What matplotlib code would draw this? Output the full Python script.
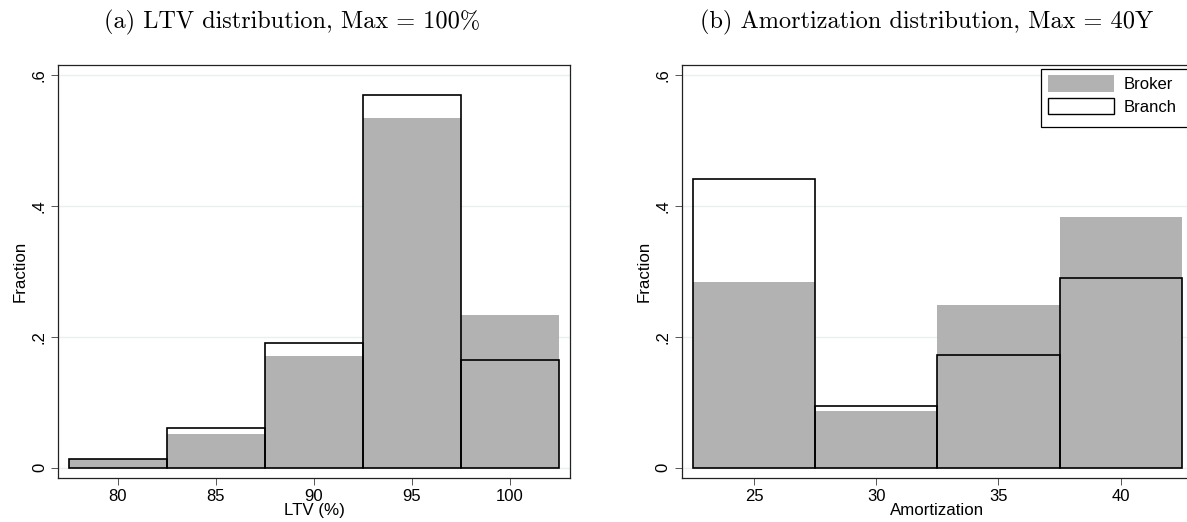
import matplotlib.pyplot as plt
from matplotlib.patches import Patch, Rectangle

plt.rcParams['font.family'] = ['Liberation Sans', 'DejaVu Sans']

# LTV histogram (fractions per 5-point bin)
ltv_bins = [80, 85, 90, 95, 100]
ltv_broker = [0.013, 0.051, 0.171, 0.534, 0.233]
ltv_branch = [0.013, 0.061, 0.190, 0.569, 0.164]

# Amortization histogram (years)
amort_bins = [25, 30, 35, 40]
amort_broker = [0.284, 0.087, 0.248, 0.383]
amort_branch = [0.442, 0.094, 0.173, 0.290]

yticks = [0, 0.2, 0.4, 0.6]
ytick_labels = ['0', '.2', '.4', '.6']

GRAY = '#b2b2b2'
GRID = '#e8f0f0'
W, H = 1187, 522

fig = plt.figure(figsize=(W / 100, H / 100), dpi=100)
ax1 = fig.add_axes([0.04886, 0.0837, 0.4313, 0.7924])
ax2 = fig.add_axes([0.5743, 0.0837, 0.4308, 0.7924])


def draw_hist(ax, bins, broker, branch, xlim, xlabel):
    ax.bar(bins, broker, width=5, color=GRAY, edgecolor='none', zorder=2)
    ax.bar(bins, branch, width=5, facecolor='none', edgecolor='black',
           linewidth=1.2, zorder=3)
    ax.set_xlim(*xlim)
    ax.set_ylim(-0.0162, 0.616)
    ax.set_xticks(bins)
    ax.set_yticks(yticks)
    ax.set_yticklabels(ytick_labels, rotation=90, va='center')
    for y in yticks:
        ax.axhline(y, color=GRID, linewidth=1.0, zorder=1)
    ax.tick_params(axis='both', direction='out', length=5, width=0.7,
                   color='#555555', labelsize=12, pad=3)
    for spine in ax.spines.values():
        spine.set_linewidth(0.9)
        spine.set_color('#222222')
    ax.set_xlabel(xlabel, fontsize=12.2, labelpad=-1)
    ax.set_ylabel('Fraction', fontsize=12.2, labelpad=3)


draw_hist(ax1, ltv_bins, ltv_broker, ltv_branch, (76.95, 103.06), 'LTV (%)')
draw_hist(ax2, amort_bins, amort_broker, amort_branch, (22.04, 42.96), 'Amortization')

# legend box runs off the right edge of the picture, as in the original
box = Rectangle((1040.7 / W, 1 - 126.7 / H), (1196 - 1040.7) / W,
                (126.7 - 69.3) / H, transform=fig.transFigure,
                facecolor='white', edgecolor='black', linewidth=0.9,
                zorder=5, clip_on=False)
ax2.add_artist(box)
handles = [Patch(facecolor=GRAY, edgecolor='none', label='Broker'),
           Patch(facecolor='white', edgecolor='black', linewidth=1.0, label='Branch')]
leg = ax2.legend(handles=handles, loc='upper left',
                 bbox_to_anchor=(1048 / W, 1 - 75 / H),
                 bbox_transform=fig.transFigure,
                 fontsize=12, frameon=False, handlelength=3.95,
                 handleheight=1.15, labelspacing=0.35, handletextpad=0.6,
                 borderpad=0, borderaxespad=0)
leg.set_zorder(6)

fig.text(292.5 / W, 1 - 22 / H, '(a) LTV distribution, Max = 100%',
         ha='center', va='center', fontsize=17.5, family='cmr10')
fig.text(927 / W, 1 - 22 / H, '(b) Amortization distribution, Max = 40Y',
         ha='center', va='center', fontsize=17.5, family='cmr10')

fig.savefig('out.png', dpi=100)
